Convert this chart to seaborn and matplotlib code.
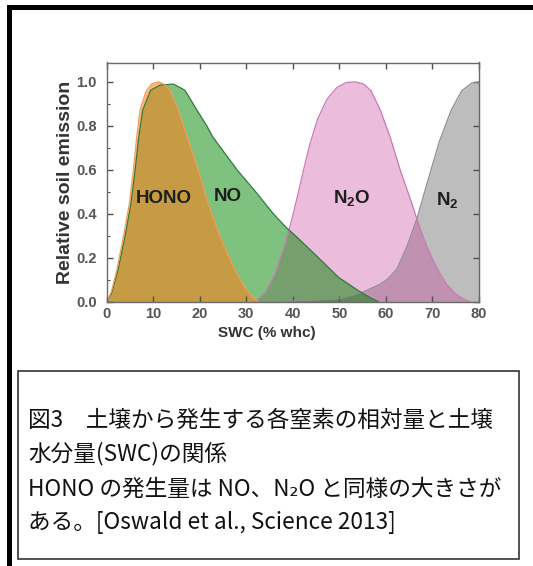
import numpy as np
import pandas as pd
import matplotlib
matplotlib.use("Agg")
import matplotlib.pyplot as plt
import seaborn as sns
from matplotlib.lines import Line2D
from matplotlib.patches import Rectangle
from matplotlib.ticker import MultipleLocator

# ---------------- data ----------------
hono_x = [0, 1.0, 2.15, 3.57, 4.86, 5.72, 6.45, 7.16, 8.4, 9.6, 11.0, 12.3, 13.6,
          15.4, 17.3, 19.7, 21.8, 24.4, 27.6, 30.1, 31.6, 32.6]
hono_y = [0, 0.045, 0.141, 0.293, 0.445, 0.597, 0.749, 0.871, 0.955, 0.99, 1.0, 0.99,
          0.962, 0.871, 0.749, 0.597, 0.445, 0.293, 0.141, 0.05, 0.015, 0]

no_x = [0, 1.0, 2.4, 3.9, 5.2, 6.1, 6.9, 7.74, 9.46, 11.5, 14.3, 16.8, 19.4, 21.5,
        22.8, 28.0, 32.0, 35.8, 38.5, 40.9, 45.5, 49.8, 54.1, 56.5, 58.4]
no_y = [0, 0.035, 0.141, 0.293, 0.445, 0.597, 0.749, 0.871, 0.962, 0.985, 0.99, 0.962,
        0.871, 0.8, 0.749, 0.6, 0.5, 0.4, 0.339, 0.293, 0.2, 0.111, 0.05, 0.02, 0]

n2o_x = [31.9, 34.0, 36.0, 38.0, 39.6, 41.0, 42.3, 43.7, 45.3, 47.3, 49.5, 51.5, 53.4,
         55.2, 56.8, 58.8, 60.9, 63.1, 65.6, 67.2, 69.0, 71.0, 73.0, 75.0, 77.0, 78.1]
n2o_y = [0, 0.04, 0.12, 0.24, 0.36, 0.48, 0.6, 0.72, 0.83, 0.92, 0.975, 0.997, 1.0,
         0.99, 0.96, 0.871, 0.749, 0.597, 0.445, 0.34, 0.24, 0.15, 0.08, 0.035, 0.008, 0]

n2_x = [32.5, 38.0, 45.0, 50.2, 55.2, 58.8, 60.5, 62.4, 64.5, 66.7, 69.0, 71.5, 74.0,
        76.3, 78.5, 80.0]
n2_y = [0, 0.002, 0.008, 0.015, 0.045, 0.08, 0.105, 0.15, 0.25, 0.38, 0.55, 0.73, 0.87,
        0.96, 0.995, 1.0]

x_ticks = [0, 10, 20, 30, 40, 50, 60, 70, 80]
y_ticks = [0.0, 0.2, 0.4, 0.6, 0.8, 1.0]

caption_lines = [
    "図3\u3000土壌から発生する各窒素の相対量と土壌",
    "水分量(SWC)の関係",
    "HONO の発生量は NO、N\u2082O と同様の大きさが",
    "ある。[Oswald et al., Science 2013]",
]

# ---------------- style ----------------
sns.set_style("ticks")
plt.rcParams["font.family"] = ["Liberation Sans", "Noto Sans CJK JP", "DejaVu Sans"]
plt.rcParams["mathtext.fontset"] = "custom"
plt.rcParams["mathtext.rm"] = "Liberation Sans"
plt.rcParams["mathtext.bf"] = "Liberation Sans:bold"

W, H = 533, 566
fig = plt.figure(figsize=(W / 100, H / 100), dpi=100)
ax = fig.add_axes([106.7 / W, 1 - 301.7 / H, (479 - 106.7) / W, (301.7 - 62.5) / H])

series = [
    ("N2", n2_x, n2_y, "#bdbdbd", 1.0, "#8e8e8e"),
    ("N2O", n2o_x, n2o_y, "#c83f9a", 0.35, "#c97ab6"),
    ("NO", no_x, no_y, "#008500", 0.5, "#2f7a3c"),
    ("HONO", hono_x, hono_y, "#f7821e", 0.6, "#f59a55"),
]
for name, xs, ys, fc, a, ec in series:
    df = pd.DataFrame({"x": xs, "y": ys})
    ax.fill_between(df["x"], 0, df["y"], color=fc, alpha=a, linewidth=0, zorder=0.5)
for name, xs, ys, fc, a, ec in series:
    df = pd.DataFrame({"x": xs, "y": ys})
    sns.lineplot(data=df, x="x", y="y", ax=ax, color=ec, linewidth=0.9, zorder=1,
                 legend=False)

ax.set_xlim(0, 80)
ax.set_ylim(0, 1.088)
ax.set_xticks(x_ticks)
ax.set_yticks(y_ticks)
ax.set_xticklabels([str(v) for v in x_ticks])
ax.set_yticklabels([f"{v:.1f}" for v in y_ticks])
ax.yaxis.set_minor_locator(MultipleLocator(0.1))

for s in ax.spines.values():
    s.set_color("#6a6a6a")
    s.set_linewidth(1.0)
ax.tick_params(which="major", direction="in", top=True, right=True, length=4.5,
               width=1.0, color="#505050", labelsize=10.5, labelcolor="#555555")
ax.tick_params(which="minor", direction="in", left=True, right=False, top=False,
               bottom=False, length=2.5, width=0.8, color="#505050")
ax.tick_params(axis="y", pad=7)
ax.tick_params(axis="x", pad=4)
for lab in ax.get_xticklabels() + ax.get_yticklabels():
    lab.set_fontweight("bold")

ax.set_xlabel("SWC (% whc)", fontsize=11, fontweight="bold", color="#333333")
ax.set_ylabel("Relative soil emission", fontsize=14, fontweight="bold", color="#333333")
ax.xaxis.set_label_coords(0.43, -0.131)
ax.yaxis.set_label_coords(-0.11, 0.5)
ax.xaxis.label.set_va("center")
ax.yaxis.label.set_va("center")

lab_kw = dict(ha="center", va="baseline", fontsize=13.5, fontweight="bold", color="#1e1e1e",
              zorder=5)
ax.text(12.3, 0.45, "HONO", **lab_kw)
ax.text(26.1, 0.458, "NO", **lab_kw)
ax.text(52.7, 0.45, r"$\mathbf{N_2O}$", **lab_kw)
ax.text(73.1, 0.44, r"$\mathbf{N_2}$", **lab_kw)

# ---------------- caption ----------------
cap_y = [420, 454, 489, 522]
for txt, py in zip(caption_lines, cap_y):
    fig.text(28 / W, 1 - py / H, txt, fontsize=16.3, va="center", ha="left", color="#111111",
             family=["Noto Sans CJK JP", "DejaVu Sans"])

fig.add_artist(Rectangle((18 / W, 1 - 559 / H), (519 - 18) / W, (559 - 371) / H,
                         transform=fig.transFigure, fill=False, edgecolor="#333333",
                         linewidth=1.2))
# outer frame (cropped on right and bottom)
fig.add_artist(Line2D([8.5 / W, 8.5 / W, 1.05], [-0.05, 1 - 6.5 / H, 1 - 6.5 / H],
                      transform=fig.transFigure, color="black", linewidth=3.6,
                      solid_joinstyle="miter"))

fig.savefig("out.png", dpi=100)
